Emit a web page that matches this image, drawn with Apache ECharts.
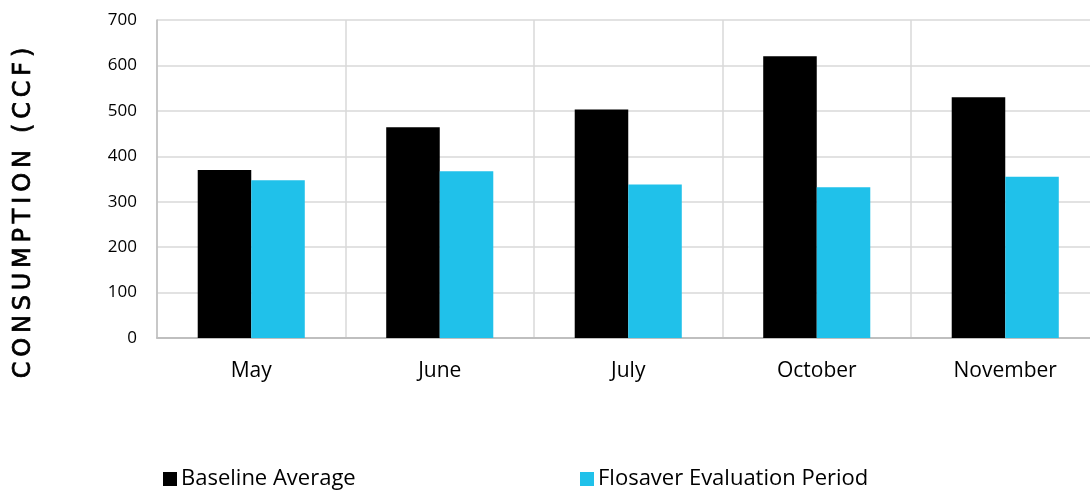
<!DOCTYPE html>
<html>
<head>
<meta charset="utf-8">
<script src="https://cdn.jsdelivr.net/npm/echarts@6/dist/echarts.min.js"></script>
<style>html,body{margin:0;padding:0;background:#fff;overflow:hidden;}#c{width:1100px;height:491px;}</style>
</head>
<body>
<div id="c"></div>
<script>
const categories = ['May', 'June', 'July', 'October', 'November'];
const baseline = [370, 464, 503, 620, 530];
const flosaver = [347, 367, 338, 332, 355];
const yTicks = [0, 100, 200, 300, 400, 500, 600, 700];
const yTitle = 'CONSUMPTION (CCF)';

const chart = echarts.init(document.getElementById('c'));
const font = '"Open Sans", "Noto Sans", sans-serif';
chart.setOption({
  animation: false,
  backgroundColor: '#ffffff',
  grid: { left: 157, top: 20, bottom: 153, right: 0.5, containLabel: false },
  graphic: [{
    type: 'text',
    x: 24, y: 213,
    rotation: Math.PI / 2,
    style: {
      text: yTitle.split('').join('\u2009'),
      fontFamily: '"DejaVu Sans", sans-serif',
      fontSize: 24,
      fill: '#000',
      stroke: '#000',
      lineWidth: 0.7,
      align: 'center',
      verticalAlign: 'middle'
    }
  }],
  legend: [
    { data: ['Baseline Average'], left: 158, top: 463, itemWidth: 14, itemHeight: 14, itemGap: 0,
      textStyle: { fontFamily: font, fontSize: 22, color: '#000', padding: [0, 0, 0, -1] }, icon: 'rect' },
    { data: ['Flosaver Evaluation Period'], left: 575, top: 463, itemWidth: 14, itemHeight: 14, itemGap: 0,
      textStyle: { fontFamily: font, fontSize: 22, color: '#000', padding: [0, 0, 0, -1] }, icon: 'rect' }
  ],
  xAxis: {
    type: 'category',
    data: categories,
    axisLine: { show: true, lineStyle: { color: '#bfbfbf', width: 2 } },
    axisTick: { show: false },
    splitLine: { show: true, lineStyle: { color: '#d9d9d9', width: 1.5 } },
    axisLabel: { fontFamily: font, fontSize: 21, color: '#000', margin: 23 }
  },
  yAxis: {
    type: 'value',
    min: 0, max: 700, interval: 100,
    axisLine: { show: true, lineStyle: { color: '#bfbfbf', width: 1.5 } },
    axisTick: { show: false },
    splitLine: { show: true, lineStyle: { color: '#d9d9d9', width: 1.5 } },
    axisLabel: { fontFamily: font, fontSize: 17, color: '#000', margin: 20,
      formatter: v => yTicks.includes(v) ? String(v) : '' }
  },
  series: [
    { name: 'Baseline Average', type: 'bar', data: baseline, barWidth: '28.4%', barGap: '0%',
      itemStyle: { color: '#000000' } },
    { name: 'Flosaver Evaluation Period', type: 'bar', data: flosaver, barWidth: '28.4%', barGap: '0%',
      itemStyle: { color: '#20c1ea' } }
  ]
});
</script>
</body>
</html>
